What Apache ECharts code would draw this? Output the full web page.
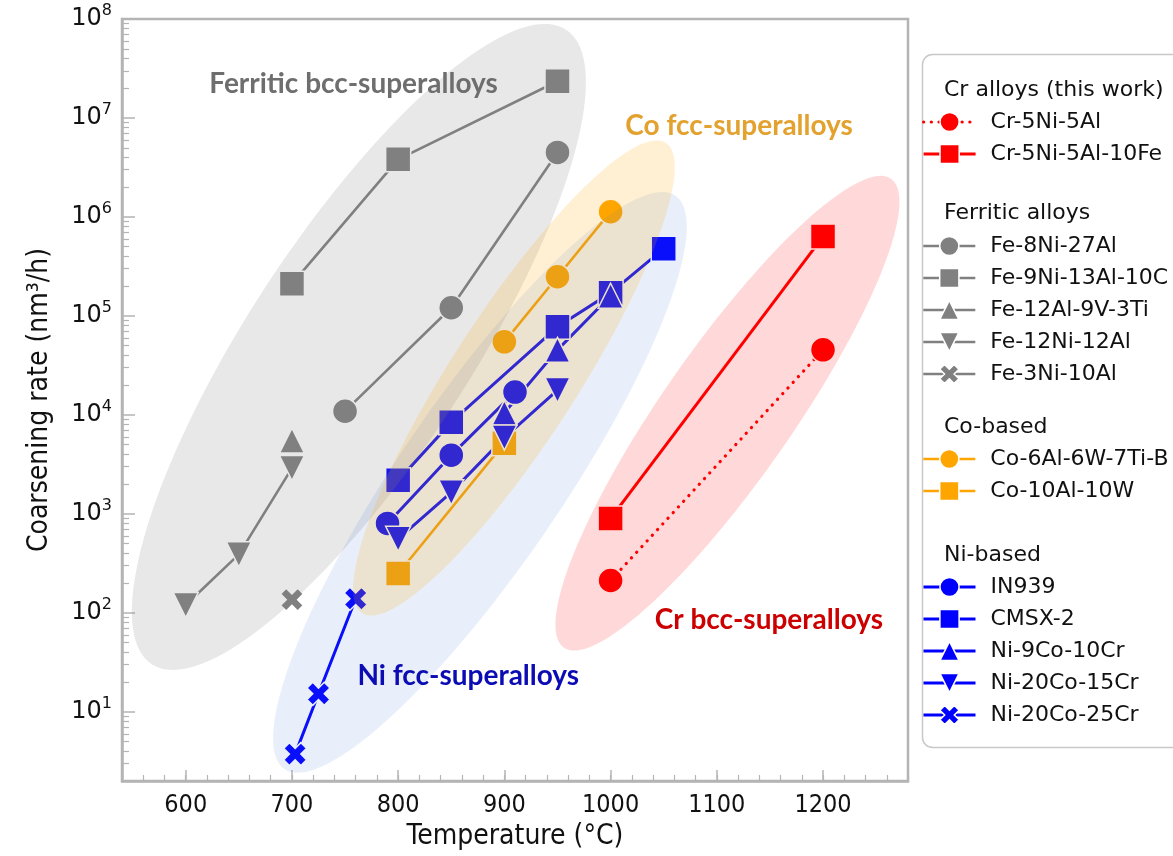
<!DOCTYPE html>
<html><head><meta charset="utf-8">
<script src="https://cdn.jsdelivr.net/npm/echarts@6/dist/echarts.min.js"></script>
<style>html,body{margin:0;padding:0;background:#fff}#c{width:1173px;height:856px}</style>
</head><body><div id="c"></div>
<script>
// ---------------- data (temperature °C, coarsening rate nm^3/h) ----------------
const crNiAl_T = [1000, 1200];
const crNiAl_V = [212, 45400];
const crNiAlFe_T = [1000, 1200];
const crNiAlFe_V = [900, 633000];

const fe8Ni27Al_T = [750, 850, 950];
const fe8Ni27Al_V = [10900, 121000, 4490000];
const fe9Ni13Al10C_T = [700, 800, 950];
const fe9Ni13Al10C_V = [211000, 3820000, 23500000];
const fe12Al9V3Ti_T = [700];
const fe12Al9V3Ti_V = [5500];
const fe12Ni12Al_T = [600, 650, 700];
const fe12Ni12Al_V = [120, 390, 2900];
const fe3Ni10Al_T = [700];
const fe3Ni10Al_V = [136];

const co6Al6W7TiB_T = [900, 950, 1000];
const co6Al6W7TiB_V = [54700, 249000, 1130000];
const co10Al10W_T = [800, 900];
const co10Al10W_V = [250, 5180];

const in939_T = [790, 850, 910];
const in939_V = [801, 3920, 17000];
const cmsx2_T = [800, 850, 950, 1000, 1050];
const cmsx2_V = [2180, 8450, 77600, 171000, 478000];
const ni9Co10Cr_T = [900, 950, 1000];
const ni9Co10Cr_V = [10500, 45400, 160000];
const ni20Co15Cr_T = [800, 850, 900, 950];
const ni20Co15Cr_V = [560, 1650, 5900, 17800];
const ni20Co25Cr_T = [703, 725, 760];
const ni20Co25Cr_V = [3.74, 15.2, 139];

// tick labels
const xTickValues = [600, 700, 800, 900, 1000, 1100, 1200];
const yTickValues = [10, 100, 1000, 10000, 100000, 1000000, 10000000, 100000000];

// legend groups
const legendHeaders = ['Cr alloys (this work)', 'Ferritic alloys', 'Co-based', 'Ni-based'];
const legendGroups = [
  ['Cr-5Ni-5Al', 'Cr-5Ni-5Al-10Fe'],
  ['Fe-8Ni-27Al', 'Fe-9Ni-13Al-10C', 'Fe-12Al-9V-3Ti', 'Fe-12Ni-12Al', 'Fe-3Ni-10Al'],
  ['Co-6Al-6W-7Ti-B', 'Co-10Al-10W'],
  ['IN939', 'CMSX-2', 'Ni-9Co-10Cr', 'Ni-20Co-15Cr', 'Ni-20Co-25Cr']
];

// shaded region annotations (centre and major-axis tip in data coords)
const regionCenters = [[763, 48600], [877, 2080], [909, 23600], [1110, 10400]];
const regionTips = [[958, 7.8e7], [1061, 1.64e6], [1052, 5.6e6], [1264, 2.43e6]];
const regionLabels = ['Ferritic bcc-superalloys', 'Ni fcc-superalloys', 'Co fcc-superalloys', 'Cr bcc-superalloys'];
const regionLabelPos = [[758, 2.19e7], [866, 23.1], [1121, 8.24e6], [1149, 85.3]];

// ---------------- styles ----------------
const regionHalfWidths = [111, 82, 63, 65];
const regionFills = ['rgba(128,128,128,0.18)', 'rgba(70,120,210,0.12)', 'rgba(255,165,0,0.17)', 'rgba(255,0,0,0.15)'];
const regionTextColors = ['#6e6e6e', '#0c0cb4', '#e3a12e', '#cc0000'];

const GRAY = '#808080', ORANGE = '#ffa500', BLUE = '#0000ff', RED = '#ff0000';
const XPATH = 'path://M0,3 L3,0 L6,3 L9,0 L12,3 L9,6 L12,9 L9,12 L6,9 L3,12 L0,9 L3,6 Z';
const COND = "'DejaVu Sans Condensed','Liberation Sans Narrow','Roboto Condensed','DejaVu Sans',sans-serif";
const FRAME = '#b4b4b4';

function pts(T, V) { return T.map((t, i) => [t, V[i]]); }

function mk(name, T, V, color, symbol, opts) {
  opts = opts || {};
  return {
    name: name, type: 'line', data: pts(T, V),
    symbol: symbol, symbolSize: opts.size || 25, symbolRotate: opts.rot || 0,
    itemStyle: { color: color, borderColor: '#ffffff', borderWidth: 1.5 },
    lineStyle: { color: color, width: opts.lw || 2.6, type: opts.ltype || 'solid', cap: opts.cap || 'butt' },
    showSymbol: true, z: 2, silent: true
  };
}

const series = [
  mk('Cr-5Ni-5Al', crNiAl_T, crNiAl_V, RED, 'circle', { lw: 3.2, ltype: [0.1, 7.6], cap: 'round' }),
  mk('Cr-5Ni-5Al-10Fe', crNiAlFe_T, crNiAlFe_V, RED, 'rect', { lw: 3 }),
  mk('Fe-8Ni-27Al', fe8Ni27Al_T, fe8Ni27Al_V, GRAY, 'circle'),
  mk('Fe-9Ni-13Al-10C', fe9Ni13Al10C_T, fe9Ni13Al10C_V, GRAY, 'rect'),
  mk('Fe-12Al-9V-3Ti', fe12Al9V3Ti_T, fe12Al9V3Ti_V, GRAY, 'triangle'),
  mk('Fe-12Ni-12Al', fe12Ni12Al_T, fe12Ni12Al_V, GRAY, 'triangle', { rot: 180 }),
  mk('Fe-3Ni-10Al', fe3Ni10Al_T, fe3Ni10Al_V, GRAY, XPATH, { size: 23 }),
  mk('Co-6Al-6W-7Ti-B', co6Al6W7TiB_T, co6Al6W7TiB_V, ORANGE, 'circle'),
  mk('Co-10Al-10W', co10Al10W_T, co10Al10W_V, ORANGE, 'rect'),
  mk('IN939', in939_T, in939_V, BLUE, 'circle', { lw: 3 }),
  mk('CMSX-2', cmsx2_T, cmsx2_V, BLUE, 'rect', { lw: 3 }),
  mk('Ni-9Co-10Cr', ni9Co10Cr_T, ni9Co10Cr_V, BLUE, 'triangle', { lw: 3 }),
  mk('Ni-20Co-15Cr', ni20Co15Cr_T, ni20Co15Cr_V, BLUE, 'triangle', { lw: 3, rot: 180 }),
  mk('Ni-20Co-25Cr', ni20Co25Cr_T, ni20Co25Cr_V, BLUE, XPATH, { lw: 3, size: 23 })
];

// shaded ellipses drawn over the marks (semi-transparent)
series.push({
  type: 'custom', name: 'regions', z: 3, silent: true,
  data: regionCenters.map((c, i) => [c[0], c[1], regionTips[i][0], regionTips[i][1]]),
  renderItem: function (params, api) {
    const i = params.dataIndex;
    const c = api.coord([api.value(0), api.value(1)]);
    const t = api.coord([api.value(2), api.value(3)]);
    const dx = t[0] - c[0], dy = t[1] - c[1];
    const a = Math.hypot(dx, dy);
    const ux = dx / a, uy = dy / a, vx = -uy, vy = ux;
    const b = regionHalfWidths[i];
    const p = [];
    for (let k = 0; k < 160; k++) {
      const th = k / 160 * 2 * Math.PI;
      p.push([c[0] + a * Math.cos(th) * ux + b * Math.sin(th) * vx,
              c[1] + a * Math.cos(th) * uy + b * Math.sin(th) * vy]);
    }
    return { type: 'polygon', shape: { points: p }, style: { fill: regionFills[i] } };
  }
});

// region labels
series.push({
  type: 'custom', name: 'regionLabels', z: 5, silent: true,
  data: regionLabelPos.map(p => [p[0], p[1]]),
  renderItem: function (params, api) {
    const i = params.dataIndex;
    const c = api.coord([api.value(0), api.value(1)]);
    return { type: 'text', x: c[0], y: c[1], style: {
      text: regionLabels[i], fill: regionTextColors[i], font: "bold 28px Lato, 'Open Sans', sans-serif",
      align: 'center', verticalAlign: 'middle' } };
  }
});

// minor tick values for the log axis
const yMinor = [];
for (let e = 0; e < 8; e++) for (let m = 2; m <= 9; m++) { const v = m * Math.pow(10, e); if (v >= 2 && v <= 1e8) yMinor.push(v); }

const legendTops = [110, 234, 447, 575];
const headerY = [90, 213, 427, 555];

const legends = legendGroups.map((g, i) => ({
  data: g, orient: 'vertical', left: 922, top: legendTops[i], padding: 0,
  itemWidth: 52, itemHeight: 24, itemGap: 8, selectedMode: false,
  itemStyle: { borderColor: 'inherit', borderWidth: 'inherit' },
  lineStyle: { width: 'inherit', type: 'inherit', cap: 'inherit' },
  textStyle: { fontFamily: 'DejaVu Sans', fontSize: 22, color: '#111', lineHeight: 24, padding: [0, 0, 0, 10] }
}));

const graphics = [{
  type: 'rect', left: 920, top: 52, silent: true,
  shape: { width: 275, height: 693, r: 10 },
  style: { fill: 'none', stroke: '#c8c8c8', lineWidth: 1.5 }
}].concat(legendHeaders.map((h, i) => ({
  type: 'text', x: 944, y: headerY[i], silent: true,
  style: { text: h, font: "22px 'DejaVu Sans'", fill: '#111', verticalAlign: 'middle' }
})));

const option = {
  animation: false,
  backgroundColor: '#ffffff',
  grid: { left: 122, right: 265, top: 19, bottom: 75, show: true, borderColor: FRAME, borderWidth: 2.5, backgroundColor: 'transparent' },
  xAxis: [{
    type: 'value', min: 540, max: 1280, position: 'bottom',
    axisLine: { show: true, lineStyle: { color: FRAME, width: 2.5 } },
    axisTick: { show: true, inside: true, length: 11, customValues: xTickValues, lineStyle: { color: FRAME, width: 1.5 } },
    axisLabel: { customValues: xTickValues, color: '#111', fontSize: 25, fontFamily: COND, margin: 12,
      formatter: function (v) { return String(v); } },
    splitLine: { show: false },
    name: 'Temperature (°C)', nameLocation: 'middle', nameGap: 42,
    nameTextStyle: { fontSize: 28, fontFamily: COND, color: '#111' }
  }, {
    type: 'value', min: 540, max: 1280, interval: 20, position: 'bottom',
    axisLine: { show: false },
    axisTick: { show: true, inside: true, length: 6, lineStyle: { color: FRAME, width: 1.2 } },
    axisLabel: { show: false }, splitLine: { show: false }
  }],
  yAxis: [{
    type: 'log', logBase: 10, min: 2, max: 1e8, position: 'left',
    axisLine: { show: true, lineStyle: { color: FRAME, width: 2.5 } },
    axisTick: { show: true, inside: true, length: 13, customValues: yTickValues, lineStyle: { color: FRAME, width: 1.5 } },
    axisLabel: {
      customValues: yTickValues, margin: 10,
      formatter: function (v) { return '{b|10}{s|' + Math.round(Math.log10(v)) + '}'; },
      rich: {
        b: { fontSize: 24, fontFamily: 'DejaVu Sans', color: '#111', lineHeight: 32 },
        s: { fontSize: 16, fontFamily: 'DejaVu Sans', color: '#111', lineHeight: 19, verticalAlign: 'top' }
      }
    },
    splitLine: { show: false },
    name: 'Coarsening rate (nm³/h)', nameLocation: 'middle', nameGap: 68,
    nameTextStyle: { fontSize: 28, fontFamily: COND, color: '#111' }
  }, {
    type: 'log', logBase: 10, min: 2, max: 1e8, position: 'left',
    axisLine: { show: false },
    axisTick: { show: true, inside: true, length: 7, customValues: yMinor, lineStyle: { color: FRAME, width: 1.2 } },
    axisLabel: { show: false }, splitLine: { show: false }
  }],
  legend: legends,
  graphic: graphics,
  series: series
};

const chart = echarts.init(document.getElementById('c'), null, { renderer: 'canvas' });
chart.setOption(option);
</script>
</body></html>
